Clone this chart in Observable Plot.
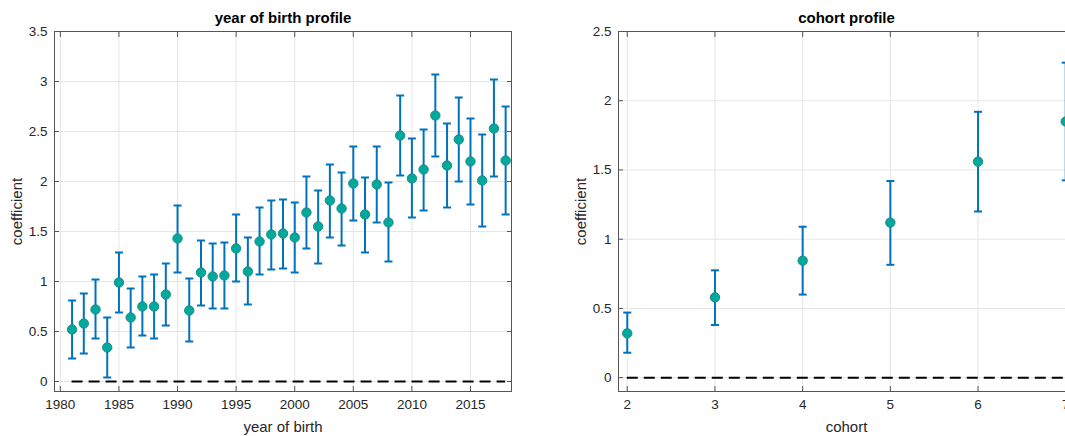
<!DOCTYPE html>
<html>
<head>
<meta charset="utf-8">
<script src="https://cdn.jsdelivr.net/npm/d3@7"></script>
<script src="https://cdn.jsdelivr.net/npm/@observablehq/plot@0.6"></script>
<style>
  html, body { margin: 0; padding: 0; background: #fff; overflow: hidden; }
  #wrap { position: relative; width: 1065px; height: 436px; overflow: hidden; background: #fff; }
  #left, #right { position: absolute; top: 0; }
  #left { left: 0; }
  #right { left: 560px; }
  svg { max-width: none !important; }
</style>
</head>
<body>
<div id="wrap"><div id="left"></div><div id="right"></div></div>
<script>
// ---- data: year of birth profile ----
const years = [1981,1982,1983,1984,1985,1986,1987,1988,1989,1990,1991,1992,1993,1994,1995,1996,1997,1998,1999,2000,2001,2002,2003,2004,2005,2006,2007,2008,2009,2010,2011,2012,2013,2014,2015,2016,2017,2018];
const yobCoef = [0.52,0.58,0.72,0.34,0.99,0.64,0.75,0.75,0.87,1.43,0.71,1.09,1.05,1.06,1.33,1.10,1.40,1.47,1.48,1.44,1.69,1.55,1.81,1.73,1.98,1.67,1.97,1.59,2.46,2.03,2.12,2.66,2.16,2.42,2.20,2.01,2.53,2.21];
const yobLow  = [0.23,0.28,0.43,0.04,0.69,0.34,0.46,0.43,0.56,1.09,0.40,0.76,0.73,0.73,1.00,0.77,1.07,1.12,1.13,1.09,1.33,1.18,1.44,1.36,1.61,1.29,1.59,1.20,2.06,1.64,1.71,2.25,1.74,2.00,1.77,1.55,2.05,1.67];
const yobHigh = [0.81,0.88,1.02,0.64,1.29,0.93,1.05,1.07,1.18,1.76,1.03,1.41,1.38,1.39,1.67,1.44,1.74,1.81,1.82,1.79,2.05,1.91,2.17,2.09,2.35,2.04,2.35,1.99,2.86,2.43,2.52,3.07,2.58,2.84,2.63,2.47,3.02,2.75];
const yobXTicks = [1980,1985,1990,1995,2000,2005,2010,2015];
const yobYTicks = [0,0.5,1,1.5,2,2.5,3,3.5];

// ---- data: cohort profile ----
const cohorts = [2,3,4,5,6,7];
const cohCoef = [0.32,0.58,0.845,1.12,1.56,1.85];
const cohLow  = [0.18,0.38,0.60,0.815,1.20,1.425];
const cohHigh = [0.47,0.775,1.09,1.42,1.92,2.275];
const cohXTicks = [2,3,4,5,6,7];
const cohYTicks = [0,0.5,1,1.5,2,2.5];

const titles = ["year of birth profile", "cohort profile"];
const xLabels = ["year of birth", "cohort"];
const yLabel = "coefficient";

// ---- styling ----
const barColor = "#0072BD";
const dotFill = "#00a99d";
const dotStroke = "#1f8a84";
const frameColor = "#555555";
const gridColor = "#e6e6e6";
const textColor = "#262626";
const fontFamily = "'Liberation Sans', Arial, Helvetica, sans-serif";
const tickFont = 13.5;
const labelFont = 15;

const capSymbol = {
  draw(ctx, size) {
    const h = Math.sqrt(size / Math.PI);
    ctx.moveTo(-h, 0);
    ctx.lineTo(h, 0);
  }
};

function panel({xs, coef, low, high, xDomain, yDomain, xTicks, yTicks, title, xLabel, width, marginLeft, marginRight}) {
  const data = xs.map((x, i) => ({x, c: coef[i], lo: low[i], hi: high[i]}));
  const fmt = d => String(d);
  return Plot.plot({
    width,
    height: 436,
    marginLeft,
    marginRight,
    marginTop: 31,
    marginBottom: 45,
    style: {fontFamily, fontSize: tickFont + "px", color: textColor, background: "#fff", overflow: "visible"},
    x: {domain: xDomain, label: null},
    y: {domain: yDomain, label: null},
    marks: [
      Plot.gridX(xTicks, {stroke: gridColor, strokeOpacity: 1, strokeWidth: 1}),
      Plot.gridY(yTicks, {stroke: gridColor, strokeOpacity: 1, strokeWidth: 1}),
      Plot.ruleY([0], {x1: xs[0], x2: xs[xs.length - 1], stroke: "#000", strokeWidth: 2, strokeDasharray: "11,6"}),
      Plot.ruleX(data, {x: "x", y1: "lo", y2: "hi", stroke: barColor, strokeWidth: 2}),
      Plot.dot(data, {x: "x", y: "hi", symbol: capSymbol, r: 4, fill: "none", stroke: barColor, strokeWidth: 2}),
      Plot.dot(data, {x: "x", y: "lo", symbol: capSymbol, r: 4, fill: "none", stroke: barColor, strokeWidth: 2}),
      Plot.dot(data, {x: "x", y: "c", r: 4.7, fill: dotFill, stroke: dotStroke, strokeWidth: 1}),
      Plot.frame({stroke: frameColor, strokeWidth: 1}),
      Plot.axisX(xTicks, {anchor: "bottom", tickSize: -5, tickPadding: 13, tickFormat: fmt, stroke: frameColor, fill: textColor, fontSize: tickFont, label: null}),
      Plot.axisX(xTicks, {anchor: "top", tickSize: -5, tickFormat: () => "", stroke: frameColor, label: null}),
      Plot.axisY(yTicks, {anchor: "left", tickSize: -5, tickPadding: 12, tickFormat: fmt, stroke: frameColor, fill: textColor, fontSize: tickFont, label: null}),
      Plot.axisY(yTicks, {anchor: "right", tickSize: -5, tickFormat: () => "", stroke: frameColor, label: null}),
      Plot.text([title], {text: d => d, frameAnchor: "top", lineAnchor: "middle", textAnchor: "middle", dy: -13, fontWeight: "bold", fontSize: labelFont, fill: "#000"}),
      Plot.text([xLabel], {text: d => d, frameAnchor: "bottom", lineAnchor: "middle", textAnchor: "middle", dy: 36, fontSize: labelFont, fill: textColor}),
      Plot.text([yLabel], {text: d => d, frameAnchor: "left", lineAnchor: "middle", textAnchor: "middle", dx: -37, rotate: -90, fontSize: labelFont, fill: textColor})
    ]
  });
}

document.getElementById("left").appendChild(panel({
  xs: years, coef: yobCoef, low: yobLow, high: yobHigh,
  xDomain: [1979.5, 2018.5], yDomain: [-0.1, 3.5],
  xTicks: yobXTicks, yTicks: yobYTicks,
  title: titles[0], xLabel: xLabels[0],
  width: 530, marginLeft: 54, marginRight: 19
}));

document.getElementById("right").appendChild(panel({
  xs: cohorts, coef: cohCoef, low: cohLow, high: cohHigh,
  xDomain: [1.9, 7.1], yDomain: [-0.1, 2.5],
  xTicks: cohXTicks, yTicks: cohYTicks,
  title: titles[1], xLabel: xLabels[1],
  width: 534, marginLeft: 58, marginRight: 20
}));
</script>
</body>
</html>
